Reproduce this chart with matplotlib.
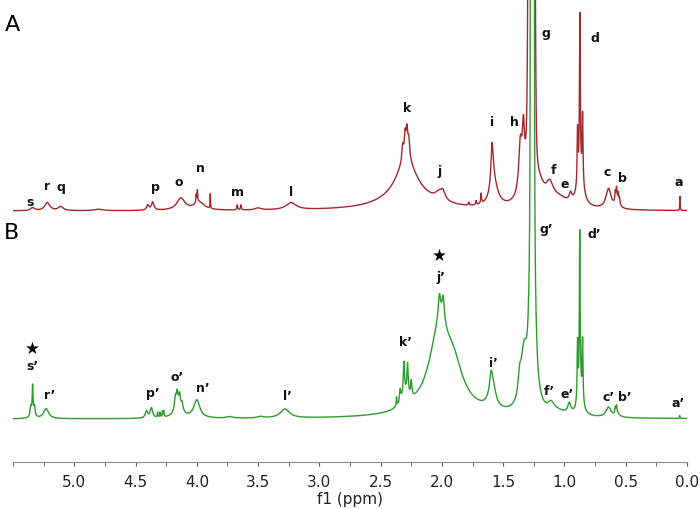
import numpy as np
import matplotlib
matplotlib.use('Agg')
import matplotlib.pyplot as plt
from matplotlib.ticker import MultipleLocator

# 峰表：化学位移(ppm)，峰高(相对单位)，半峰宽(ppm)
# 谱 A
a_pos = [5.34, 5.22, 5.11, 4.80, 4.40, 4.36, 4.13, 3.98, 3.995, 4.005, 3.89, 3.67, 3.64, 3.50, 3.23,
         2.28, 2.29, 2.32, 2.30, 2.285, 2.27, 2.02, 1.99, 1.78, 1.72, 1.68,
         1.59, 1.575, 1.36, 1.335, 1.33, 1.27, 1.20, 1.12, 1.05, 0.95,
         0.893, 0.874, 0.852, 0.87, 0.64, 0.585, 0.575, 0.56, 0.55, 0.57, 0.057]
a_hgt = [3, 8, 4, 1.5, 5, 8, 12, 8, 12, 8, 15, 5, 5, 2, 7,
         17, 35, 15, 22, 25, 18, 8, 7, 3, 4, 10,
         45, 22, 45, 45, 15, 600, 12, 16, 9, 8,
         55, 160, 68, 30, 20, 10, 12, 9, 6, 7, 14]
a_wid = [0.02, 0.025, 0.025, 0.04, 0.012, 0.012, 0.04, 0.05, 0.003, 0.003, 0.002, 0.004, 0.004, 0.03, 0.05,
         0.22, 0.09, 0.008, 0.008, 0.008, 0.008, 0.04, 0.02, 0.004, 0.004, 0.004,
         0.012, 0.04, 0.015, 0.01, 0.04, 0.012, 0.05, 0.035, 0.1, 0.012,
         0.004, 0.004, 0.004, 0.03, 0.025, 0.004, 0.004, 0.004, 0.004, 0.02, 0.002]
a_core = (1.268, 3000, 0.0125)   # g 主峰（超出画面）

# 谱 B
b_pos = [5.34, 5.355, 5.325, 5.34, 5.23, 4.41, 4.37, 4.32, 4.30, 4.28, 4.27,
         4.175, 4.16, 4.14, 4.12, 4.15, 4.0, 3.73, 3.48, 3.28, 2.37,
         2.34, 2.31, 2.28, 2.25, 2.30, 2.02, 2.02, 1.99, 1.95, 1.90,
         1.60, 1.59, 1.365, 1.33, 1.262, 1.11, 1.06, 0.96,
         0.893, 0.875, 0.852, 0.87, 0.64, 0.585, 0.575, 0.57, 0.06]
b_hgt = [28, 9, 9, 4, 10, 7, 10, 5, 5, 6, 6,
         12, 14, 12, 7, 11, 18, 1.5, 1.5, 9, 9,
         12, 32, 30, 15, 12, 75, 25, 25, 15, 25,
         10, 30, 20, 50, 1000, 8, 4, 10,
         60, 165, 62, 18, 10, 6, 7, 4, 3]
b_wid = [0.004, 0.006, 0.006, 0.02, 0.025, 0.012, 0.012, 0.003, 0.003, 0.003, 0.003,
         0.008, 0.008, 0.008, 0.008, 0.04, 0.03, 0.03, 0.03, 0.045, 0.003,
         0.006, 0.006, 0.006, 0.006, 0.04, 0.1, 0.012, 0.012, 0.2, 0.08,
         0.01, 0.03, 0.015, 0.03, 0.01, 0.03, 0.08, 0.015,
         0.004, 0.004, 0.004, 0.025, 0.025, 0.004, 0.004, 0.02, 0.002]
b_core = (1.262, 8000, 0.006)   # g' 主峰

# 峰标注 (文字, ppm, 高度)
a_labels = [('s', 5.36, 261), ('r', 5.22, 276), ('q', 5.11, 275), ('p', 4.34, 276), ('o', 4.15, 280),
            ('n', 3.97, 295), ('m', 3.67, 270), ('l', 3.23, 270), ('k', 2.28, 354), ('j', 2.02, 292),
            ('i', 1.59, 340), ('h', 1.41, 340), ('g', 1.15, 430), ('f', 1.09, 293), ('e', 1.00, 278),
            ('d', 0.75, 424), ('c', 0.65, 291), ('b', 0.53, 284), ('a', 0.07, 280)]
b_labels = [('s’', 5.34, 96), ('r’', 5.20, 67), ('p’', 4.36, 69), ('o’', 4.16, 85), ('n’', 3.95, 74),
            ('l’', 3.26, 66), ('j’', 2.01, 185), ('k’', 2.30, 120), ('i’', 1.58, 99), ('g’', 1.15, 233),
            ('d’', 0.76, 228), ('f’', 1.12, 71), ('e’', 0.98, 68), ('c’', 0.64, 65), ('b’', 0.51, 65),
            ('a’', 0.07, 59)]
stars = [(5.34, 114), (2.02, 207)]


def spectrum(x, pos, hgt, wid, core):
    y = np.zeros_like(x)
    for c, h, w in zip(pos, hgt, wid):
        y += h / (1 + ((x - c) / w) ** 2)
    c, h, s = core
    y += h * np.exp(-0.5 * ((x - c) / s) ** 2)
    return y


x = np.linspace(0, 5.5, 8000)
ya = spectrum(x, a_pos, a_hgt, a_wid, a_core) + 251
yb = spectrum(x, b_pos, b_hgt, b_wid, b_core) + 43

fig = plt.figure(figsize=(7, 5.1), dpi=100)
ax = fig.add_axes([13 / 700, 47 / 510, 674 / 700, 463 / 510])
ax.plot(x, ya, color='#a3282c', lw=1)
ax.plot(x, yb, color='#2f9a2f', lw=1)
ax.set_xlim(5.5, 0.0)
ax.set_ylim(0, 463)

for t, px, py in a_labels + b_labels:
    ax.text(px, py, t, ha='center', va='center', fontsize=9, fontweight='bold', color='#111111')
for px, py in stars:
    ax.text(px, py, '★', ha='center', va='center', fontsize=12, color='black')

fig.text(12 / 700, 1 - 25 / 510, 'A', fontsize=16, ha='center', va='center')
fig.text(12 / 700, 1 - 233 / 510, 'B', fontsize=16, ha='center', va='center')

for side in ['left', 'top', 'right']:
    ax.spines[side].set_visible(False)
ax.spines['bottom'].set_color('#8a8a8a')
ax.set_yticks([])
ax.xaxis.set_major_locator(MultipleLocator(0.5))
ax.xaxis.set_minor_locator(MultipleLocator(0.25))
ax.tick_params(axis='x', which='both', length=3, color='#555555', labelsize=11, labelcolor='#222222', pad=6)
ax.set_xticks(np.arange(0, 5.01, 0.5))
ax.set_xticklabels(['%.1f' % v for v in np.arange(0, 5.01, 0.5)])
ax.set_xlabel('f1 (ppm)', fontsize=11, color='#222222', labelpad=1)

fig.savefig('out.png', dpi=100)
